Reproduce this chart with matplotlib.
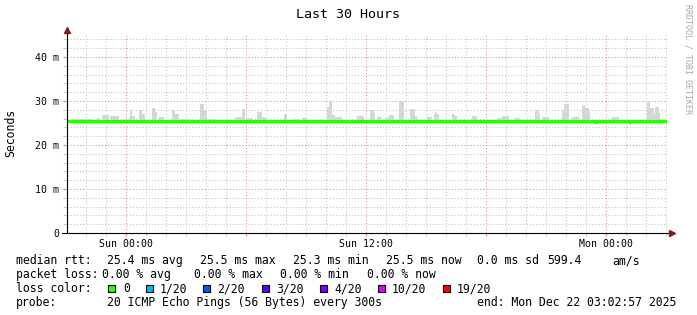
import numpy as np
import matplotlib
matplotlib.use('Agg')
import matplotlib.pyplot as plt
import matplotlib.dates as mdates
from matplotlib.patches import Rectangle
from matplotlib.ticker import MultipleLocator, FuncFormatter

title = 'Last 30 Hours'
end_time = np.datetime64('2025-12-22T03:02:57')
step_s = 300

# median rtt per 5 min sample (ms), 360 samples
median_ms = [
    25.4, 25.4, 25.4, 25.4, 25.4, 25.4, 25.4, 25.4, 25.4, 25.4, 25.4, 25.4, 25.5, 25.5, 25.5, 25.5, 25.4, 25.4, 25.4, 25.4,
    25.4, 25.4, 25.4, 25.4, 25.4, 25.4, 25.4, 25.4, 25.4, 25.4, 25.4, 25.4, 25.4, 25.4, 25.5, 25.5, 25.5, 25.5, 25.5, 25.4,
    25.4, 25.4, 25.4, 25.4, 25.4, 25.4, 25.4, 25.4, 25.4, 25.4, 25.4, 25.4, 25.4, 25.4, 25.4, 25.4, 25.4, 25.4, 25.4, 25.4,
    25.4, 25.4, 25.4, 25.4, 25.4, 25.4, 25.4, 25.4, 25.4, 25.4, 25.5, 25.5, 25.5, 25.4, 25.4, 25.4, 25.4, 25.4, 25.4, 25.4,
    25.4, 25.4, 25.4, 25.4, 25.4, 25.4, 25.4, 25.4, 25.4, 25.4, 25.4, 25.4, 25.4, 25.4, 25.4, 25.4, 25.4, 25.4, 25.4, 25.4,
    25.4, 25.4, 25.4, 25.4, 25.4, 25.4, 25.4, 25.4, 25.4, 25.4, 25.4, 25.4, 25.4, 25.4, 25.4, 25.4, 25.4, 25.4, 25.4, 25.4,
    25.4, 25.4, 25.5, 25.5, 25.5, 25.5, 25.5, 25.5, 25.5, 25.4, 25.4, 25.4, 25.4, 25.4, 25.4, 25.4, 25.4, 25.4, 25.4, 25.4,
    25.4, 25.4, 25.4, 25.4, 25.4, 25.5, 25.5, 25.5, 25.5, 25.5, 25.5, 25.5, 25.5, 25.5, 25.4, 25.4, 25.4, 25.4, 25.4, 25.4,
    25.4, 25.4, 25.4, 25.4, 25.4, 25.4, 25.4, 25.4, 25.4, 25.4, 25.4, 25.4, 25.4, 25.4, 25.4, 25.4, 25.4, 25.4, 25.4, 25.4,
    25.4, 25.4, 25.4, 25.4, 25.4, 25.4, 25.4, 25.4, 25.4, 25.4, 25.4, 25.4, 25.5, 25.5, 25.5, 25.5, 25.4, 25.4, 25.4, 25.4,
    25.4, 25.4, 25.4, 25.4, 25.4, 25.4, 25.4, 25.4, 25.4, 25.4, 25.4, 25.4, 25.4, 25.4, 25.4, 25.4, 25.5, 25.5, 25.5, 25.5,
    25.5, 25.5, 25.5, 25.4, 25.4, 25.4, 25.4, 25.4, 25.4, 25.4, 25.4, 25.4, 25.4, 25.4, 25.4, 25.4, 25.4, 25.5, 25.5, 25.5,
    25.5, 25.5, 25.5, 25.5, 25.4, 25.4, 25.4, 25.4, 25.4, 25.4, 25.4, 25.4, 25.4, 25.4, 25.4, 25.4, 25.4, 25.4, 25.4, 25.4,
    25.4, 25.4, 25.4, 25.4, 25.4, 25.4, 25.4, 25.4, 25.4, 25.5, 25.5, 25.5, 25.5, 25.5, 25.4, 25.4, 25.4, 25.4, 25.4, 25.4,
    25.4, 25.4, 25.4, 25.4, 25.4, 25.4, 25.4, 25.4, 25.4, 25.4, 25.4, 25.4, 25.4, 25.4, 25.4, 25.4, 25.4, 25.4, 25.4, 25.4,
    25.4, 25.4, 25.4, 25.4, 25.4, 25.4, 25.4, 25.4, 25.4, 25.4, 25.4, 25.4, 25.4, 25.4, 25.4, 25.4, 25.4, 25.2, 25.4, 25.4,
    25.4, 25.4, 25.4, 25.4, 25.4, 25.4, 25.4, 25.4, 25.4, 25.4, 25.4, 25.4, 25.4, 25.4, 25.4, 25.4, 25.4, 25.2, 25.4, 25.4,
    25.4, 25.4, 25.4, 25.4, 25.4, 25.4, 25.4, 25.4, 25.5, 25.5, 25.5, 25.5, 25.5, 25.5, 25.5, 25.5, 25.5, 25.5, 25.5, 25.5,
]

# slowest ping per sample (top of the smoke, ms)
smoke_max_ms = [
    25.7, 25.7, 25.7, 25.9, 25.9, 25.9, 25.9, 25.9, 25.9, 25.9, 25.9, 25.9, 25.9, 25.9, 25.9, 25.9, 25.7, 25.7, 26.1, 26.1,
    25.7, 26.8, 26.8, 26.8, 26.8, 25.7, 26.5, 26.5, 26.5, 26.5, 26.5, 25.7, 25.7, 25.7, 25.7, 25.9, 25.9, 26.6, 28.0, 26.6,
    26.6, 25.7, 25.7, 28.0, 28.0, 27.0, 27.0, 25.7, 25.7, 25.7, 25.7, 28.4, 28.4, 27.5, 25.7, 26.4, 26.4, 26.4, 25.7, 25.7,
    25.7, 25.7, 25.7, 28.0, 28.0, 27.0, 27.0, 25.7, 26.0, 26.0, 26.0, 26.0, 26.0, 25.7, 25.7, 25.7, 25.7, 25.7, 25.7, 25.7,
    29.3, 29.3, 28.0, 28.0, 25.9, 25.9, 25.9, 25.9, 25.7, 25.7, 25.7, 25.7, 25.7, 25.7, 25.7, 25.7, 25.7, 25.7, 25.7, 25.7,
    25.7, 26.4, 26.4, 26.4, 26.4, 28.2, 28.2, 25.7, 26.2, 26.2, 26.2, 25.7, 25.7, 25.7, 27.5, 27.5, 27.5, 26.4, 26.4, 26.1,
    25.7, 25.7, 25.7, 25.7, 25.7, 25.7, 25.7, 25.7, 25.7, 25.7, 27.0, 27.0, 25.7, 25.7, 25.7, 25.9, 25.9, 25.9, 25.9, 25.9,
    25.7, 26.2, 26.2, 26.2, 25.7, 25.7, 25.7, 25.7, 25.7, 25.7, 25.7, 25.7, 25.7, 25.7, 25.7, 25.7, 28.7, 30.0, 30.0, 26.9,
    26.9, 26.4, 26.4, 26.4, 26.4, 25.7, 25.7, 25.7, 25.7, 25.7, 25.7, 25.7, 25.7, 25.7, 26.7, 26.7, 26.7, 26.7, 25.7, 25.7,
    25.7, 25.7, 28.0, 28.0, 27.0, 25.7, 26.4, 26.4, 26.4, 25.7, 25.7, 26.2, 26.2, 26.8, 26.8, 26.8, 25.7, 25.7, 25.7, 30.0,
    30.0, 30.0, 25.7, 25.7, 25.7, 25.7, 28.2, 28.2, 28.2, 26.7, 25.7, 25.7, 25.7, 25.7, 25.7, 25.7, 26.4, 26.4, 26.4, 25.7,
    27.0, 27.5, 27.0, 25.7, 25.7, 25.7, 25.7, 25.7, 25.7, 25.7, 25.7, 27.0, 27.0, 26.6, 25.7, 25.7, 25.7, 25.7, 25.7, 25.7,
    25.7, 25.7, 25.7, 26.6, 26.6, 26.6, 25.7, 25.7, 25.7, 25.7, 25.7, 25.7, 25.7, 25.7, 25.7, 25.7, 25.7, 25.7, 26.2, 26.2,
    26.2, 26.7, 26.7, 26.7, 26.7, 25.7, 25.7, 25.7, 25.7, 26.2, 26.2, 26.2, 25.7, 25.7, 25.7, 25.7, 25.7, 25.7, 25.7, 25.7,
    25.7, 28.0, 28.0, 27.0, 25.7, 26.4, 26.4, 26.4, 26.4, 25.7, 25.7, 25.7, 25.7, 25.7, 25.7, 25.7, 25.7, 28.0, 29.3, 29.3,
    29.3, 25.7, 25.7, 26.4, 26.4, 26.4, 26.4, 25.7, 25.7, 29.1, 29.1, 28.5, 28.5, 27.5, 25.7, 25.7, 25.7, 25.7, 25.7, 25.7,
    25.7, 25.7, 25.7, 25.7, 25.7, 25.7, 25.7, 26.4, 26.4, 26.4, 26.4, 25.7, 25.7, 25.7, 25.7, 25.7, 25.7, 25.7, 25.7, 25.7,
    25.7, 25.7, 25.7, 25.7, 25.7, 25.7, 25.7, 25.7, 29.7, 29.7, 28.5, 28.5, 27.0, 28.6, 28.6, 27.2, 25.9, 25.7, 25.7, 25.7,
]
smoke_floor_ms = 25.1

y_ticks = [0, 10, 20, 30, 40]
y_tick_labels = ['0', '10 m', '20 m', '30 m', '40 m']

rtt_legend = ['25.4 ms avg', '25.5 ms max', '25.3 ms min', '25.5 ms now', '0.0 ms sd', '599.4', 'am/s']
loss_legend = ['0.00 % avg', '0.00 % max', '0.00 % min', '0.00 % now']
loss_labels = ['0', '1/20', '2/20', '3/20', '4/20', '10/20', '19/20']
loss_colors = ['#26ff00', '#00b8ff', '#0059ff', '#5e00ff', '#7e00ff', '#dd00ff', '#ff0000']
probe_text = '20 ICMP Echo Pings (56 Bytes) every 300s'
end_text = 'end: Mon Dec 22 03:02:57 2025'

W, H = 697, 315
MONO = 'DejaVu Sans Mono'
MGRID = '#e08a8a'
GRID = '#c0c0c0'


def fx(x):
    return x / W


def fy(y):
    return 1 - y / H


fig = plt.figure(figsize=(W / 100, H / 100), dpi=100)
fig.patch.set_facecolor('white')
ax = fig.add_axes([fx(67), fy(233), 600 / W, 200 / H])

start = end_time - np.timedelta64(30 * 3600, 's')
times = start + np.arange(len(median_ms)) * np.timedelta64(step_s, 's')
t = mdates.date2num(times)
w = step_s / 86400.0

smoke = np.array(smoke_max_ms)
ax.bar(t, smoke - smoke_floor_ms, bottom=smoke_floor_ms, width=w, align='edge',
       color='#d6d6d6', linewidth=0, zorder=2)
ax.step(np.append(t, t[-1] + w), np.append(median_ms, median_ms[-1]), where='post',
        color=loss_colors[0], lw=2.2, zorder=3, solid_capstyle='butt')

ax.set_xlim(mdates.date2num(start), mdates.date2num(end_time))
ax.set_ylim(0, 45.45)

ax.xaxis.set_major_locator(mdates.HourLocator(byhour=[0, 6, 12, 18]))
ax.xaxis.set_minor_locator(mdates.HourLocator())


def xfmt(v, pos):
    d = mdates.num2date(v)
    return d.strftime('%a %H:%M') if d.hour in (0, 12) else ''


ax.xaxis.set_major_formatter(FuncFormatter(xfmt))
ax.set_yticks(y_ticks, labels=y_tick_labels)
ax.yaxis.set_minor_locator(MultipleLocator(2))

ax.grid(which='major', color=MGRID, linestyle=(0, (1, 2)), lw=0.75)
ax.grid(which='minor', color=GRID, linestyle=(0, (1, 2)), lw=0.75)
ax.set_axisbelow(True)

ax.tick_params(axis='both', which='both', labelsize=7.1, direction='out')
ax.tick_params(axis='y', which='major', length=3, color=MGRID, pad=2.5)
ax.tick_params(axis='y', which='minor', length=3, color=GRID)
ax.tick_params(axis='x', which='major', length=2, color=MGRID, pad=2.5)
ax.tick_params(axis='x', which='minor', length=2, color=GRID)
for lab in ax.get_xticklabels() + ax.get_yticklabels():
    lab.set_fontfamily(MONO)

for s in ax.spines.values():
    s.set_visible(False)

# axis lines with arrowheads
ax.plot([0, 0], [0, 1.0], transform=ax.transAxes, color='black', lw=0.8, clip_on=False, zorder=5)
ax.plot([-0.008, 1.006], [0, 0], transform=ax.transAxes, color='black', lw=0.8, clip_on=False, zorder=5)
ax.plot([0], [1.015], transform=ax.transAxes, marker='^', color='#8b1a1a', ms=4.5, clip_on=False, zorder=6)
ax.plot([1.008], [0], transform=ax.transAxes, marker='>', color='#8b1a1a', ms=4.5, clip_on=False, zorder=6)

fig.text(fx(348), fy(18), title, family=MONO, fontsize=9.6, ha='center', va='baseline')
fig.text(fx(10.5), fy(133), 'Seconds', family=MONO, fontsize=8.3, rotation=90, ha='center', va='center')
fig.text(fx(688), fy(4), 'RRDTOOL / TOBI OETIKER', family=MONO, fontsize=6, color='#a8a8a8',
         rotation=270, ha='center', va='top')

leg = dict(family=MONO, fontsize=8.3, ha='left', va='baseline')
fig.text(fx(16), fy(264), 'median rtt:', **leg)
for x, s in zip([107, 200.3, 292.6, 386, 477, 547.6, 612.6], rtt_legend):
    fig.text(fx(x), fy(264), s, **leg)
fig.text(fx(16), fy(278), 'packet loss:', **leg)
for x, s in zip([102.5, 194, 280, 366.5], loss_legend):
    fig.text(fx(x), fy(278), s, **leg)
fig.text(fx(16), fy(292), 'loss color:', **leg)
for xs, xt, lab, col in zip([108, 146, 203, 262, 320, 378, 443],
                            [123.3, 159.3, 217.3, 276.3, 334.3, 391.3, 456.3],
                            loss_labels, loss_colors):
    fig.patches.append(Rectangle((fx(xs), fy(291.5)), 7 / W, 7 / H, transform=fig.transFigure,
                                 facecolor=col, edgecolor='black', lw=0.8))
    fig.text(fx(xt), fy(292), lab, **leg)
fig.text(fx(16), fy(306), 'probe:', **leg)
fig.text(fx(107), fy(306), probe_text, **leg)
fig.text(fx(477.3), fy(306), end_text, **leg)

fig.savefig('out.png', dpi=100, facecolor='white')
